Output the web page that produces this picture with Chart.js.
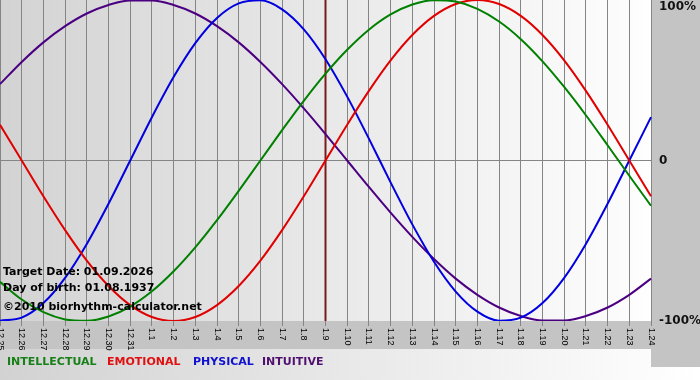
<!DOCTYPE html>
<html>
<head>
<meta charset="utf-8">
<script src="https://cdn.jsdelivr.net/npm/chart.js@4/dist/chart.umd.min.js"></script>
<style>
html,body{margin:0;padding:0;background:#fff;}
#wrap{position:relative;width:700px;height:380px;overflow:hidden;}
#c{position:absolute;left:0;top:0;}
.note{position:absolute;left:3px;font:bold 11px "DejaVu Sans";line-height:13px;color:#000;white-space:nowrap;}
.leg{position:absolute;top:355px;font:bold 11px "DejaVu Sans";line-height:13px;white-space:nowrap;}
</style>
</head>
<body>
<div id="wrap">
<canvas id="c" width="700" height="380"></canvas>
<div class="note" style="top:265px">Target Date: 01.09.2026</div>
<div class="note" style="top:281px">Day of birth: 01.08.1937</div>
<div class="note" style="top:300px">©2010 biorhythm-calculator.net</div>
<span class="leg" style="left:7px;color:#188018">INTELLECTUAL</span>
<span class="leg" style="left:107px;color:#e01010">EMOTIONAL</span>
<span class="leg" style="left:193px;color:#1010d0">PHYSICAL</span>
<span class="leg" style="left:262px;color:#501070">INTUITIVE</span>
</div>
<script>
const days = ['12.25','12.26','12.27','12.28','12.29','12.30','12.31','1.1','1.2','1.3','1.4','1.5','1.6','1.7','1.8','1.9','1.10','1.11','1.12','1.13','1.14','1.15','1.16','1.17','1.18','1.19','1.20','1.21','1.22','1.23','1.24'];
const intellectual = [-75.6,-86.6,-94.5,-99.0,-99.9,-97.2,-91.0,-81.5,-69.0,-54.1,-37.2,-18.9,0,18.9,37.2,54.1,69.0,81.5,91.0,97.2,99.9,99.0,94.5,86.6,75.6,61.8,45.8,28.2,9.5,-9.5,-28.2];
const emotional = [22.3,0,-22.3,-43.4,-62.4,-78.2,-90.1,-97.5,-100,-97.5,-90.1,-78.2,-62.4,-43.4,-22.3,0,22.3,43.4,62.4,78.2,90.1,97.5,100,97.5,90.1,78.2,62.4,43.4,22.3,0,-22.3];
const physical = [-99.8,-97.9,-88.8,-73.1,-52.0,-27.0,0,27.0,52.0,73.1,88.8,97.9,99.8,94.2,81.7,63.1,39.8,13.6,-13.6,-39.8,-63.1,-81.7,-94.2,-99.8,-97.9,-88.8,-73.1,-52.0,-27.0,0,27.0];
const intuitive = [47.6,61.4,73.6,83.7,91.6,96.9,99.7,99.7,96.9,91.6,83.7,73.6,61.4,47.6,32.5,16.5,0,-16.5,-32.5,-47.6,-61.4,-73.6,-83.7,-91.6,-96.9,-99.7,-99.7,-96.9,-91.6,-83.7,-73.6];
const targetDay = '1.9';
const yTickLabels = {'100':'100%','0':'0','-100':'-100%'};

const bgPlugin = {
  id: 'bg',
  beforeDraw(chart) {
    const {ctx, chartArea: a, width, height} = chart;
    ctx.save();
    let g = ctx.createLinearGradient(0, 0, width, 0);
    g.addColorStop(0, '#d2d2d2');
    g.addColorStop(1, '#ffffff');
    ctx.fillStyle = g;
    ctx.fillRect(0, 0, width, height);
    ctx.fillStyle = '#c4c4c4';
    ctx.fillRect(0, a.bottom, width, 28);
    ctx.fillRect(a.right, 0, width - a.right, a.bottom + 46);
    g = ctx.createLinearGradient(a.left, 0, a.right, 0);
    g.addColorStop(0, '#d3d3d3');
    g.addColorStop(1, '#fefefe');
    ctx.fillStyle = g;
    ctx.fillRect(a.left, a.top, a.right - a.left, a.bottom - a.top);
    ctx.restore();
  },
  beforeDatasetsDraw(chart) {
    const {ctx, chartArea: a, scales} = chart;
    const x = scales.x.getPixelForValue(days.indexOf(targetDay));
    ctx.save();
    ctx.strokeStyle = '#7a1c1c';
    ctx.lineWidth = 2;
    ctx.beginPath();
    ctx.moveTo(x, a.top);
    ctx.lineTo(x, a.bottom);
    ctx.stroke();
    ctx.restore();
  }
};

new Chart(document.getElementById('c'), {
  type: 'line',
  data: {
    labels: days,
    datasets: [
      {label: 'INTELLECTUAL', data: intellectual, borderColor: '#008000'},
      {label: 'EMOTIONAL', data: emotional, borderColor: '#e00000'},
      {label: 'PHYSICAL', data: physical, borderColor: '#0000e0'},
      {label: 'INTUITIVE', data: intuitive, borderColor: '#4b0082'}
    ]
  },
  options: {
    responsive: false,
    animation: false,
    layout: {padding: {left: 0, right: 0, top: 0, bottom: 29}},
    plugins: {legend: {display: false}, tooltip: {enabled: false}},
    elements: {point: {radius: 0}, line: {borderWidth: 2, cubicInterpolationMode: 'monotone', fill: false}},
    scales: {
      x: {
        type: 'category',
        offset: false,
        grid: {color: '#858585', lineWidth: 1, tickLength: 5},
        border: {display: false},
        ticks: {autoSkip: false, minRotation: -90, maxRotation: -90, padding: 2,
                font: {family: 'Liberation Sans', size: 9}, color: '#000'},
        afterFit(s) {
          s.height = 30; s.paddingLeft = 0; s.paddingRight = 0;
          s._getXAxisLabelAlignment = () => 'left';
        }
      },
      y: {
        position: 'right',
        min: -100, max: 100,
        grid: {drawTicks: false, color: c => (c.tick && c.tick.value === 0) ? '#858585' : 'rgba(0,0,0,0)'},
        border: {display: false},
        ticks: {stepSize: 100, padding: 8,
                font: {family: 'DejaVu Sans', size: 12, weight: 'bold'}, color: '#111',
                callback: v => v === 100 ? ['', yTickLabels[String(v)]] : yTickLabels[String(v)]},
        afterFit(s) { s.width = 49; s.paddingTop = 0; s.paddingBottom = 0; }
      }
    }
  },
  plugins: [bgPlugin]
});
</script>
</body>
</html>
